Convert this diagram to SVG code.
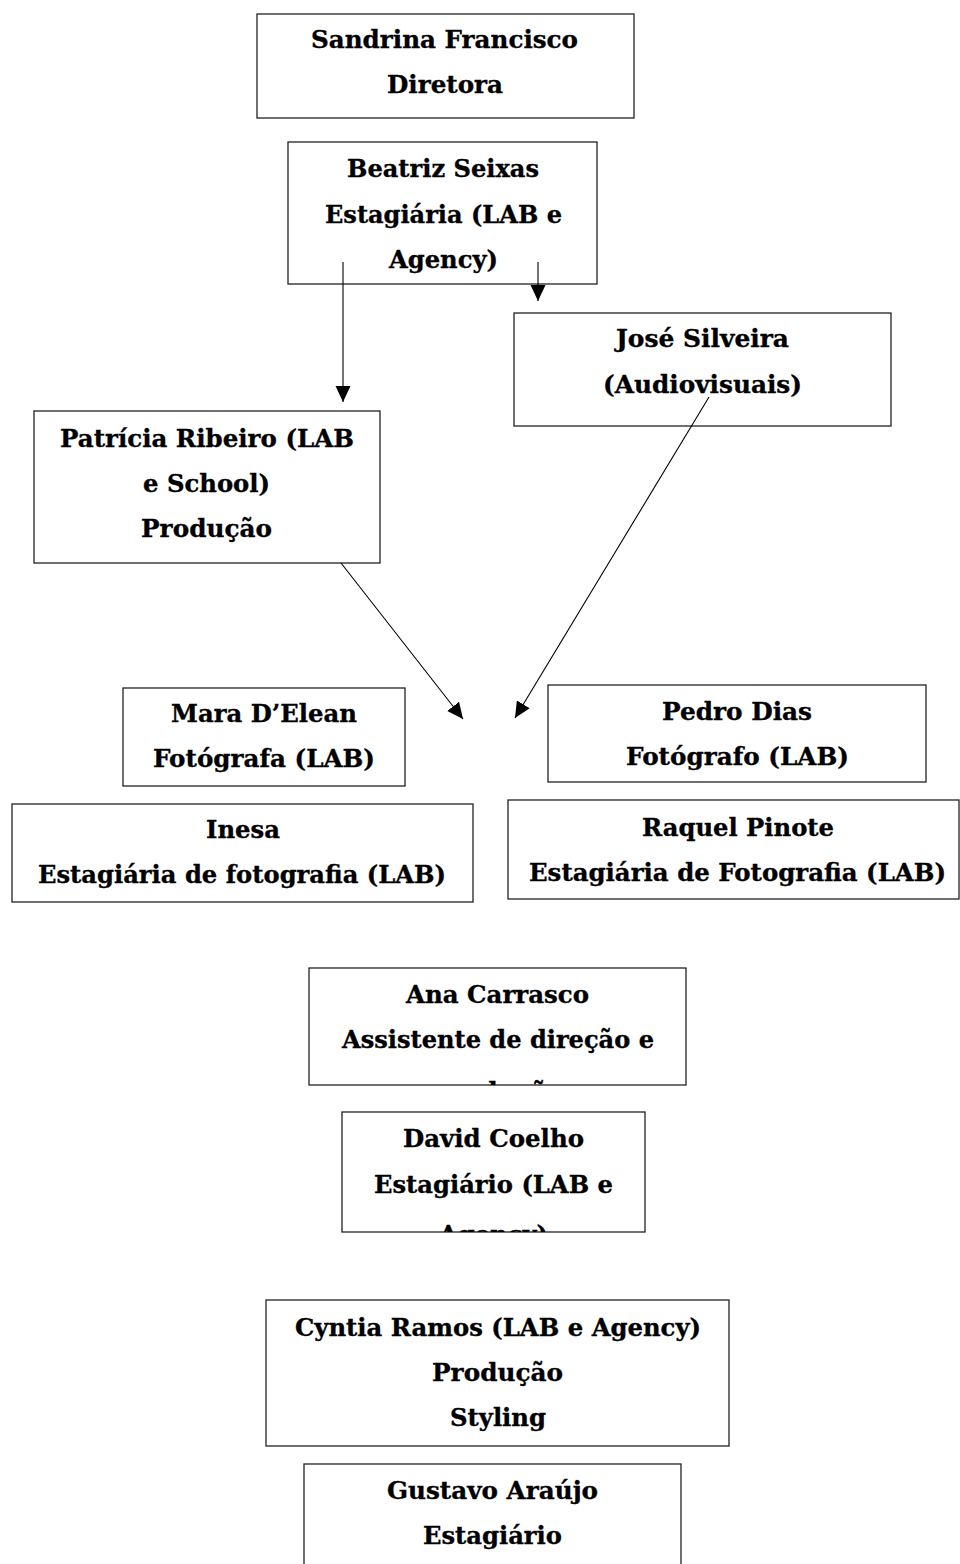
<svg xmlns="http://www.w3.org/2000/svg" width="960" height="1564" viewBox="0 0 960 1564">
<style>
.box{fill:#fff;stroke:#222;stroke-width:1.3}
.t{font-family:"DejaVu Serif","Liberation Serif",serif;font-weight:bold;font-size:25px;fill:#000;stroke:#000;stroke-width:0.35;text-anchor:start}
.c{stroke:#000;stroke-width:1.1;fill:none}
</style>
<defs>
<marker id="ah" markerUnits="userSpaceOnUse" markerWidth="16" markerHeight="16" viewBox="0 0 16 15" refX="16" refY="7.5" orient="auto">
<path d="M0,0 L16,7.5 L0,15 Z" fill="#000"/>
</marker>
<clipPath id="clipAna"><rect x="309" y="968" width="377" height="117"/></clipPath>
<clipPath id="clipDavid"><rect x="342" y="1112" width="303" height="120"/></clipPath>
</defs>
<rect width="960" height="1564" fill="#fff"/>

<g id="sandrina">
<rect class="box" x="257" y="14" width="377" height="104"/>
<text class="t" x="311" y="48" textLength="267" lengthAdjust="spacingAndGlyphs">Sandrina Francisco</text>
<text class="t" x="387" y="93" textLength="116" lengthAdjust="spacingAndGlyphs">Diretora</text>
</g>

<g id="beatriz">
<rect class="box" x="288" y="142" width="309" height="142"/>
<text class="t" x="347" y="177" textLength="192" lengthAdjust="spacingAndGlyphs">Beatriz Seixas</text>
<text class="t" x="325" y="223" textLength="237" lengthAdjust="spacingAndGlyphs">Estagiária (LAB e</text>
<text class="t" x="389" y="268" textLength="109" lengthAdjust="spacingAndGlyphs">Agency)</text>
</g>

<g id="jose">
<rect class="box" x="514" y="313" width="377" height="113"/>
<text class="t" x="616" y="347" textLength="173" lengthAdjust="spacingAndGlyphs">José Silveira</text>
<text class="t" x="603" y="393" textLength="199" lengthAdjust="spacingAndGlyphs">(Audiovisuais)</text>
</g>

<g id="patricia">
<rect class="box" x="34" y="411" width="346" height="152"/>
<text class="t" x="60" y="447" textLength="294" lengthAdjust="spacingAndGlyphs">Patrícia Ribeiro (LAB</text>
<text class="t" x="143" y="492" textLength="127" lengthAdjust="spacingAndGlyphs">e School)</text>
<text class="t" x="141" y="537" textLength="131" lengthAdjust="spacingAndGlyphs">Produção</text>
</g>

<g id="mara">
<rect class="box" x="123" y="688" width="282" height="98"/>
<text class="t" x="171" y="722" textLength="186" lengthAdjust="spacingAndGlyphs">Mara D’Elean</text>
<text class="t" x="153" y="767" textLength="222" lengthAdjust="spacingAndGlyphs">Fotógrafa (LAB)</text>
</g>

<g id="pedro">
<rect class="box" x="548" y="685" width="378" height="97"/>
<text class="t" x="662" y="720" textLength="150" lengthAdjust="spacingAndGlyphs">Pedro Dias</text>
<text class="t" x="626" y="765" textLength="223" lengthAdjust="spacingAndGlyphs">Fotógrafo (LAB)</text>
</g>

<g id="inesa">
<rect class="box" x="12" y="804" width="461" height="98"/>
<text class="t" x="206" y="838" textLength="74" lengthAdjust="spacingAndGlyphs">Inesa</text>
<text class="t" x="38" y="883" textLength="408" lengthAdjust="spacingAndGlyphs">Estagiária de fotografia (LAB)</text>
</g>

<g id="raquel">
<rect class="box" x="508" y="800" width="451" height="99"/>
<text class="t" x="642" y="836" textLength="192" lengthAdjust="spacingAndGlyphs">Raquel Pinote</text>
<text class="t" x="529" y="881" textLength="417" lengthAdjust="spacingAndGlyphs">Estagiária de Fotografia (LAB)</text>
</g>

<g id="ana">
<rect class="box" x="309" y="968" width="377" height="117"/>
<text class="t" x="406" y="1003" textLength="183" lengthAdjust="spacingAndGlyphs">Ana Carrasco</text>
<text class="t" x="342" y="1048" textLength="312" lengthAdjust="spacingAndGlyphs">Assistente de direção e</text>
<text class="t" x="433" y="1100" textLength="131" lengthAdjust="spacingAndGlyphs" clip-path="url(#clipAna)">produção</text>
</g>

<g id="david">
<rect class="box" x="342" y="1112" width="303" height="120"/>
<text class="t" x="403" y="1147" textLength="181" lengthAdjust="spacingAndGlyphs">David Coelho</text>
<text class="t" x="374" y="1193" textLength="239" lengthAdjust="spacingAndGlyphs">Estagiário (LAB e</text>
<text class="t" x="439" y="1243" textLength="109" lengthAdjust="spacingAndGlyphs" clip-path="url(#clipDavid)">Agency)</text>
</g>

<g id="cyntia">
<rect class="box" x="266" y="1300" width="463" height="146"/>
<text class="t" x="295" y="1336" textLength="406" lengthAdjust="spacingAndGlyphs">Cyntia Ramos (LAB e Agency)</text>
<text class="t" x="432" y="1381" textLength="131" lengthAdjust="spacingAndGlyphs">Produção</text>
<text class="t" x="450" y="1426" textLength="96" lengthAdjust="spacingAndGlyphs">Styling</text>
</g>

<g id="gustavo">
<rect class="box" x="304" y="1464" width="377" height="110"/>
<text class="t" x="387" y="1499" textLength="211" lengthAdjust="spacingAndGlyphs">Gustavo Araújo</text>
<text class="t" x="423" y="1544" textLength="139" lengthAdjust="spacingAndGlyphs">Estagiário</text>
</g>

<g id="connectors">
<line class="c" x1="343" y1="262" x2="343" y2="402" marker-end="url(#ah)"/>
<line class="c" x1="538" y1="262" x2="538" y2="301" marker-end="url(#ah)"/>
<line class="c" x1="341" y1="563" x2="463" y2="719" marker-end="url(#ah)"/>
<line class="c" x1="709" y1="397" x2="515" y2="718" marker-end="url(#ah)"/>
</g>
</svg>
